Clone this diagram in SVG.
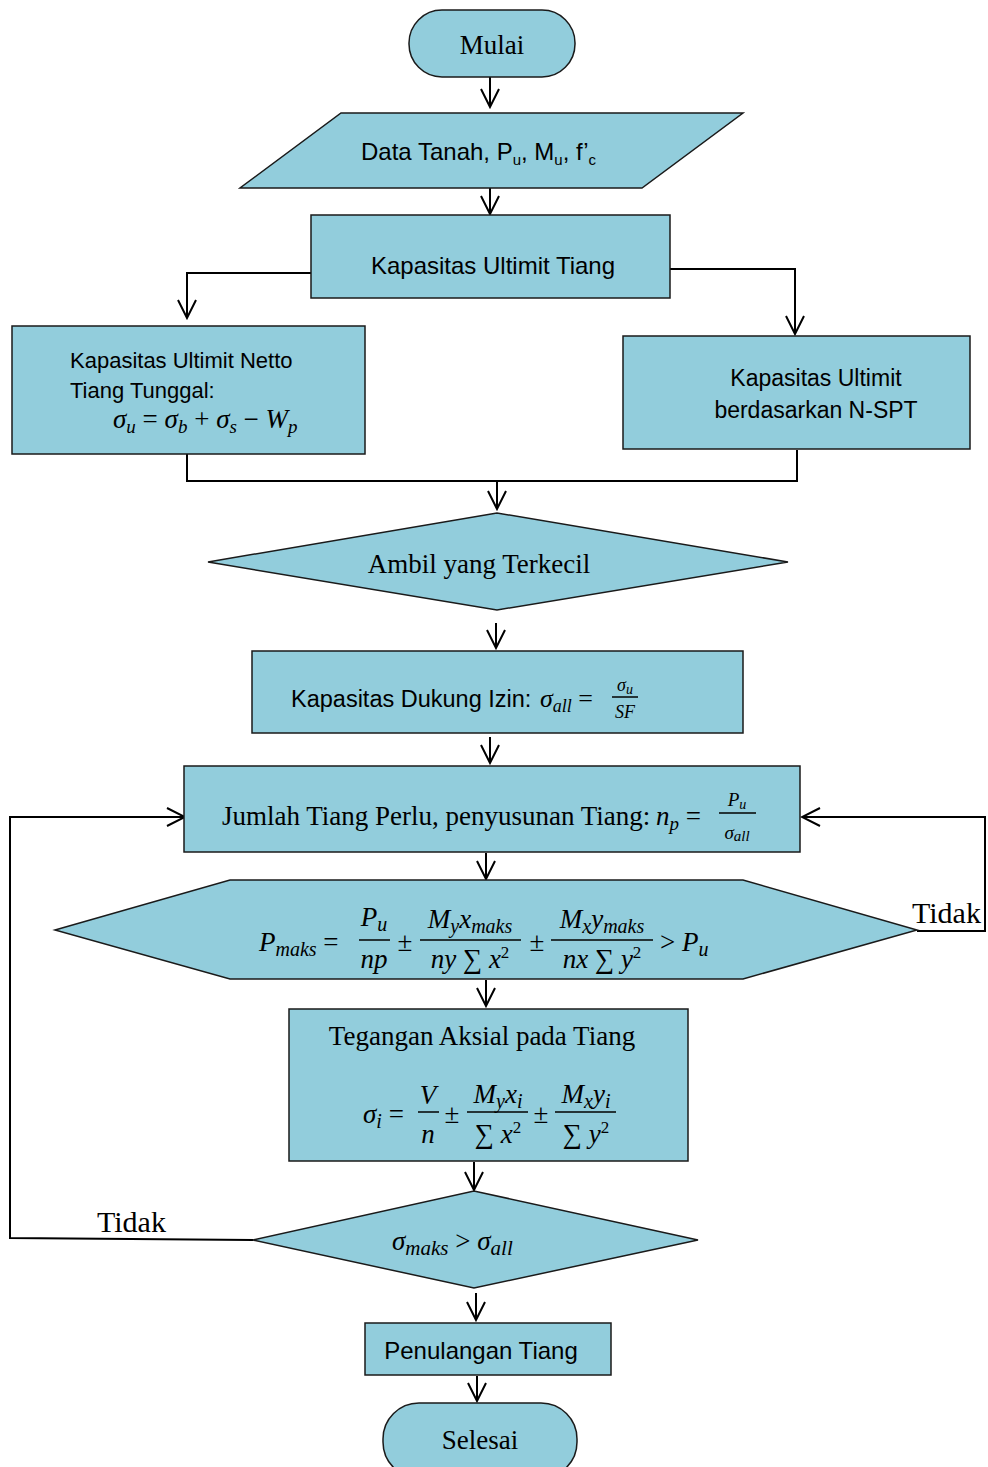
<svg xmlns="http://www.w3.org/2000/svg" width="988" height="1467" viewBox="0 0 988 1467">
  <defs>
    <marker id="arrow" viewBox="-20 -11 22 22" markerWidth="22" markerHeight="22" refX="0" refY="0" orient="auto" markerUnits="userSpaceOnUse">
      <path d="M-18,-9 L0,0 L-18,9" fill="none" stroke="#000" stroke-width="2"/>
    </marker>
  </defs>
  <style>
    .shape { fill: #92CDDC; stroke: #1a1a1a; stroke-width: 1.5; }
    .conn { fill: none; stroke: #000; stroke-width: 2; }
    .arr { marker-end: url(#arrow); }
    .sans { font-family: "Liberation Sans", "Open Sans", sans-serif; font-size: 24px; fill: #000; }
    .serif { font-family: "Liberation Serif", "Times New Roman", serif; font-size: 27px; fill: #000; }
    .math { font-family: "Liberation Serif", "DejaVu Serif", serif; font-style: italic; font-size: 27px; fill: #000; }
    .op { font-style: normal; }
    .bar { stroke: #000; stroke-width: 1.5; }
  </style>

  <!-- connectors -->
  <g id="connectors">
    <line class="conn arr" x1="490" y1="77" x2="490" y2="107"/>
    <line class="conn arr" x1="490" y1="188" x2="490" y2="214"/>
    <polyline class="conn arr" points="311,273 187,273 187,318"/>
    <polyline class="conn arr" points="670,269 795,269 795,334"/>
    <line class="conn" x1="187" y1="454" x2="187" y2="481"/>
    <line class="conn" x1="797" y1="450" x2="797" y2="481"/>
    <line class="conn" x1="186" y1="481" x2="798" y2="481"/>
    <line class="conn arr" x1="497" y1="481" x2="497" y2="509"/>
    <line class="conn arr" x1="496" y1="623" x2="496" y2="648"/>
    <line class="conn arr" x1="490" y1="737" x2="490" y2="763"/>
    <line class="conn arr" x1="486" y1="853" x2="486" y2="879"/>
    <line class="conn arr" x1="486" y1="980" x2="486" y2="1006"/>
    <line class="conn arr" x1="474" y1="1162" x2="474" y2="1190"/>
    <line class="conn arr" x1="476" y1="1293" x2="476" y2="1320"/>
    <line class="conn arr" x1="477" y1="1376" x2="477" y2="1401"/>
    <!-- "Tidak" loop from hexagon back to Jumlah Tiang -->
    <polyline class="conn arr" points="917,931 985,931 985,817 802,817"/>
    <!-- "Tidak" loop from stress check back to Jumlah Tiang -->
    <polyline class="conn arr" points="253,1240 10,1238 10,817 185,817"/>
    <text class="serif" x="912" y="923" style="font-size:30px">Tidak</text>
    <text class="serif" x="97" y="1232" style="font-size:30px">Tidak</text>
  </g>

  <!-- start -->
  <g id="mulai">
    <rect class="shape" x="409" y="10" width="166" height="67" rx="33" ry="33"/>
    <text class="serif" x="492" y="54" text-anchor="middle">Mulai</text>
  </g>

  <!-- input data -->
  <g id="data">
    <polygon class="shape" points="341,113 743,113 642,188 240,188"/>
    <text class="sans" x="361" y="160">Data Tanah, P<tspan font-size="15" dy="5">u</tspan><tspan dy="-5">, M</tspan><tspan font-size="15" dy="5">u</tspan><tspan dy="-5">, f’</tspan><tspan font-size="15" dy="5">c</tspan></text>
  </g>

  <g id="kapasitas-ultimit">
    <rect class="shape" x="311" y="215" width="359" height="83"/>
    <text class="sans" x="493" y="274" text-anchor="middle">Kapasitas Ultimit Tiang</text>
  </g>

  <g id="netto">
    <rect class="shape" x="12" y="326" width="353" height="128"/>
    <text class="sans" x="70" y="368" style="font-size:22px">Kapasitas Ultimit Netto</text>
    <text class="sans" x="70" y="398" style="font-size:22px">Tiang Tunggal:</text>
    <text class="math" x="113" y="428">σ<tspan font-size="19" dy="5">u</tspan><tspan class="op" dy="-5"> = </tspan>σ<tspan font-size="19" dy="5">b</tspan><tspan class="op" dy="-5"> + </tspan>σ<tspan font-size="19" dy="5">s</tspan><tspan class="op" dy="-5"> − </tspan>W<tspan font-size="19" dy="5">p</tspan></text>
  </g>

  <g id="nspt">
    <rect class="shape" x="623" y="336" width="347" height="113"/>
    <text class="sans" x="816" y="386" text-anchor="middle" style="font-size:23px">Kapasitas Ultimit</text>
    <text class="sans" x="816" y="418" text-anchor="middle" style="font-size:23px">berdasarkan N-SPT</text>
  </g>

  <g id="terkecil">
    <polygon class="shape" points="208,562 497,513 788,562 497,610"/>
    <text class="serif" x="479" y="573" text-anchor="middle">Ambil yang Terkecil</text>
  </g>

  <g id="dukung-izin">
    <rect class="shape" x="252" y="651" width="491" height="82"/>
    <text class="sans" x="291" y="707" style="font-size:23.5px">Kapasitas Dukung Izin: </text>
    <text class="math" x="540" y="707" style="font-size:26px">σ<tspan font-size="18" dy="5">all</tspan><tspan class="op" dy="-5"> =</tspan></text>
    <text class="math" x="625" y="691" text-anchor="middle" style="font-size:18px">σ<tspan font-size="14" dy="3">u</tspan></text>
    <line class="bar" x1="612" y1="697" x2="638" y2="697"/>
    <text class="math" x="625" y="718" text-anchor="middle" style="font-size:18px">SF</text>
  </g>

  <g id="jumlah-tiang">
    <rect class="shape" x="184" y="766" width="616" height="86"/>
    <text class="serif" x="222" y="825">Jumlah Tiang Perlu, penyusunan Tiang: </text>
    <text class="math" x="656" y="825">n<tspan font-size="19" dy="5">p</tspan><tspan class="op" dy="-5"> =</tspan></text>
    <text class="math" x="737" y="806" text-anchor="middle" style="font-size:19px">P<tspan font-size="14" dy="3">u</tspan></text>
    <line class="bar" x1="719" y1="813" x2="756" y2="813"/>
    <text class="math" x="737" y="839" text-anchor="middle" style="font-size:19px">σ<tspan font-size="15" dy="2">all</tspan></text>
  </g>

  <g id="p-maks">
    <polygon class="shape" points="55,930 230,880 743,880 917,930 743,979 230,979"/>
    <text class="math" x="259" y="951">P<tspan font-size="20" dy="5">maks</tspan><tspan class="op" dy="-5"> =</tspan></text>
    <text class="math" x="374" y="926" text-anchor="middle">P<tspan font-size="20" dy="5">u</tspan></text>
    <line class="bar" x1="359" y1="940" x2="390" y2="940"/>
    <text class="math" x="374" y="968" text-anchor="middle">np</text>
    <text class="math op" x="405" y="951" text-anchor="middle">±</text>
    <text class="math" x="470" y="928" text-anchor="middle">M<tspan font-size="20" dy="5">y</tspan><tspan dy="-5">x</tspan><tspan font-size="20" dy="5">maks</tspan></text>
    <line class="bar" x1="420" y1="940" x2="521" y2="940"/>
    <text class="math" x="470" y="968" text-anchor="middle">ny <tspan class="op">∑</tspan> x<tspan font-size="17" dy="-10" class="op">2</tspan></text>
    <text class="math op" x="537" y="951" text-anchor="middle">±</text>
    <text class="math" x="602" y="928" text-anchor="middle">M<tspan font-size="20" dy="5">x</tspan><tspan dy="-5">y</tspan><tspan font-size="20" dy="5">maks</tspan></text>
    <line class="bar" x1="551" y1="940" x2="653" y2="940"/>
    <text class="math" x="602" y="968" text-anchor="middle">nx <tspan class="op">∑</tspan> y<tspan font-size="17" dy="-10" class="op">2</tspan></text>
    <text class="math" x="660" y="951"><tspan class="op">&gt; </tspan>P<tspan font-size="20" dy="5">u</tspan></text>
  </g>

  <g id="tegangan-aksial">
    <rect class="shape" x="289" y="1009" width="399" height="152"/>
    <text class="serif" x="482" y="1045" text-anchor="middle">Tegangan Aksial pada Tiang</text>
    <text class="math" x="363" y="1123">σ<tspan font-size="20" dy="5">i</tspan><tspan class="op" dy="-5"> =</tspan></text>
    <text class="math" x="428" y="1104" text-anchor="middle">V</text>
    <line class="bar" x1="418" y1="1112" x2="439" y2="1112"/>
    <text class="math" x="428" y="1143" text-anchor="middle">n</text>
    <text class="math op" x="452" y="1123" text-anchor="middle">±</text>
    <text class="math" x="498" y="1103" text-anchor="middle">M<tspan font-size="20" dy="5">y</tspan><tspan dy="-5">x</tspan><tspan font-size="20" dy="5">i</tspan></text>
    <line class="bar" x1="467" y1="1112" x2="528" y2="1112"/>
    <text class="math" x="498" y="1143" text-anchor="middle"><tspan class="op">∑</tspan> x<tspan font-size="17" dy="-10" class="op">2</tspan></text>
    <text class="math op" x="541" y="1123" text-anchor="middle">±</text>
    <text class="math" x="586" y="1103" text-anchor="middle">M<tspan font-size="20" dy="5">x</tspan><tspan dy="-5">y</tspan><tspan font-size="20" dy="5">i</tspan></text>
    <line class="bar" x1="555" y1="1112" x2="616" y2="1112"/>
    <text class="math" x="586" y="1143" text-anchor="middle"><tspan class="op">∑</tspan> y<tspan font-size="17" dy="-10" class="op">2</tspan></text>
  </g>

  <g id="cek-tegangan">
    <polygon class="shape" points="253,1240 474,1191 698,1240 474,1288"/>
    <text class="math" x="392" y="1250">σ<tspan font-size="21" dy="5">maks</tspan><tspan class="op" dy="-5"> &gt; </tspan>σ<tspan font-size="21" dy="5">all</tspan></text>
  </g>

  <g id="penulangan">
    <rect class="shape" x="365" y="1323" width="246" height="52"/>
    <text class="sans" x="481" y="1359" text-anchor="middle">Penulangan Tiang</text>
  </g>

  <g id="selesai">
    <rect class="shape" x="383" y="1403" width="194" height="75" rx="36" ry="36"/>
    <text class="serif" x="480" y="1449" text-anchor="middle">Selesai</text>
  </g>
</svg>
